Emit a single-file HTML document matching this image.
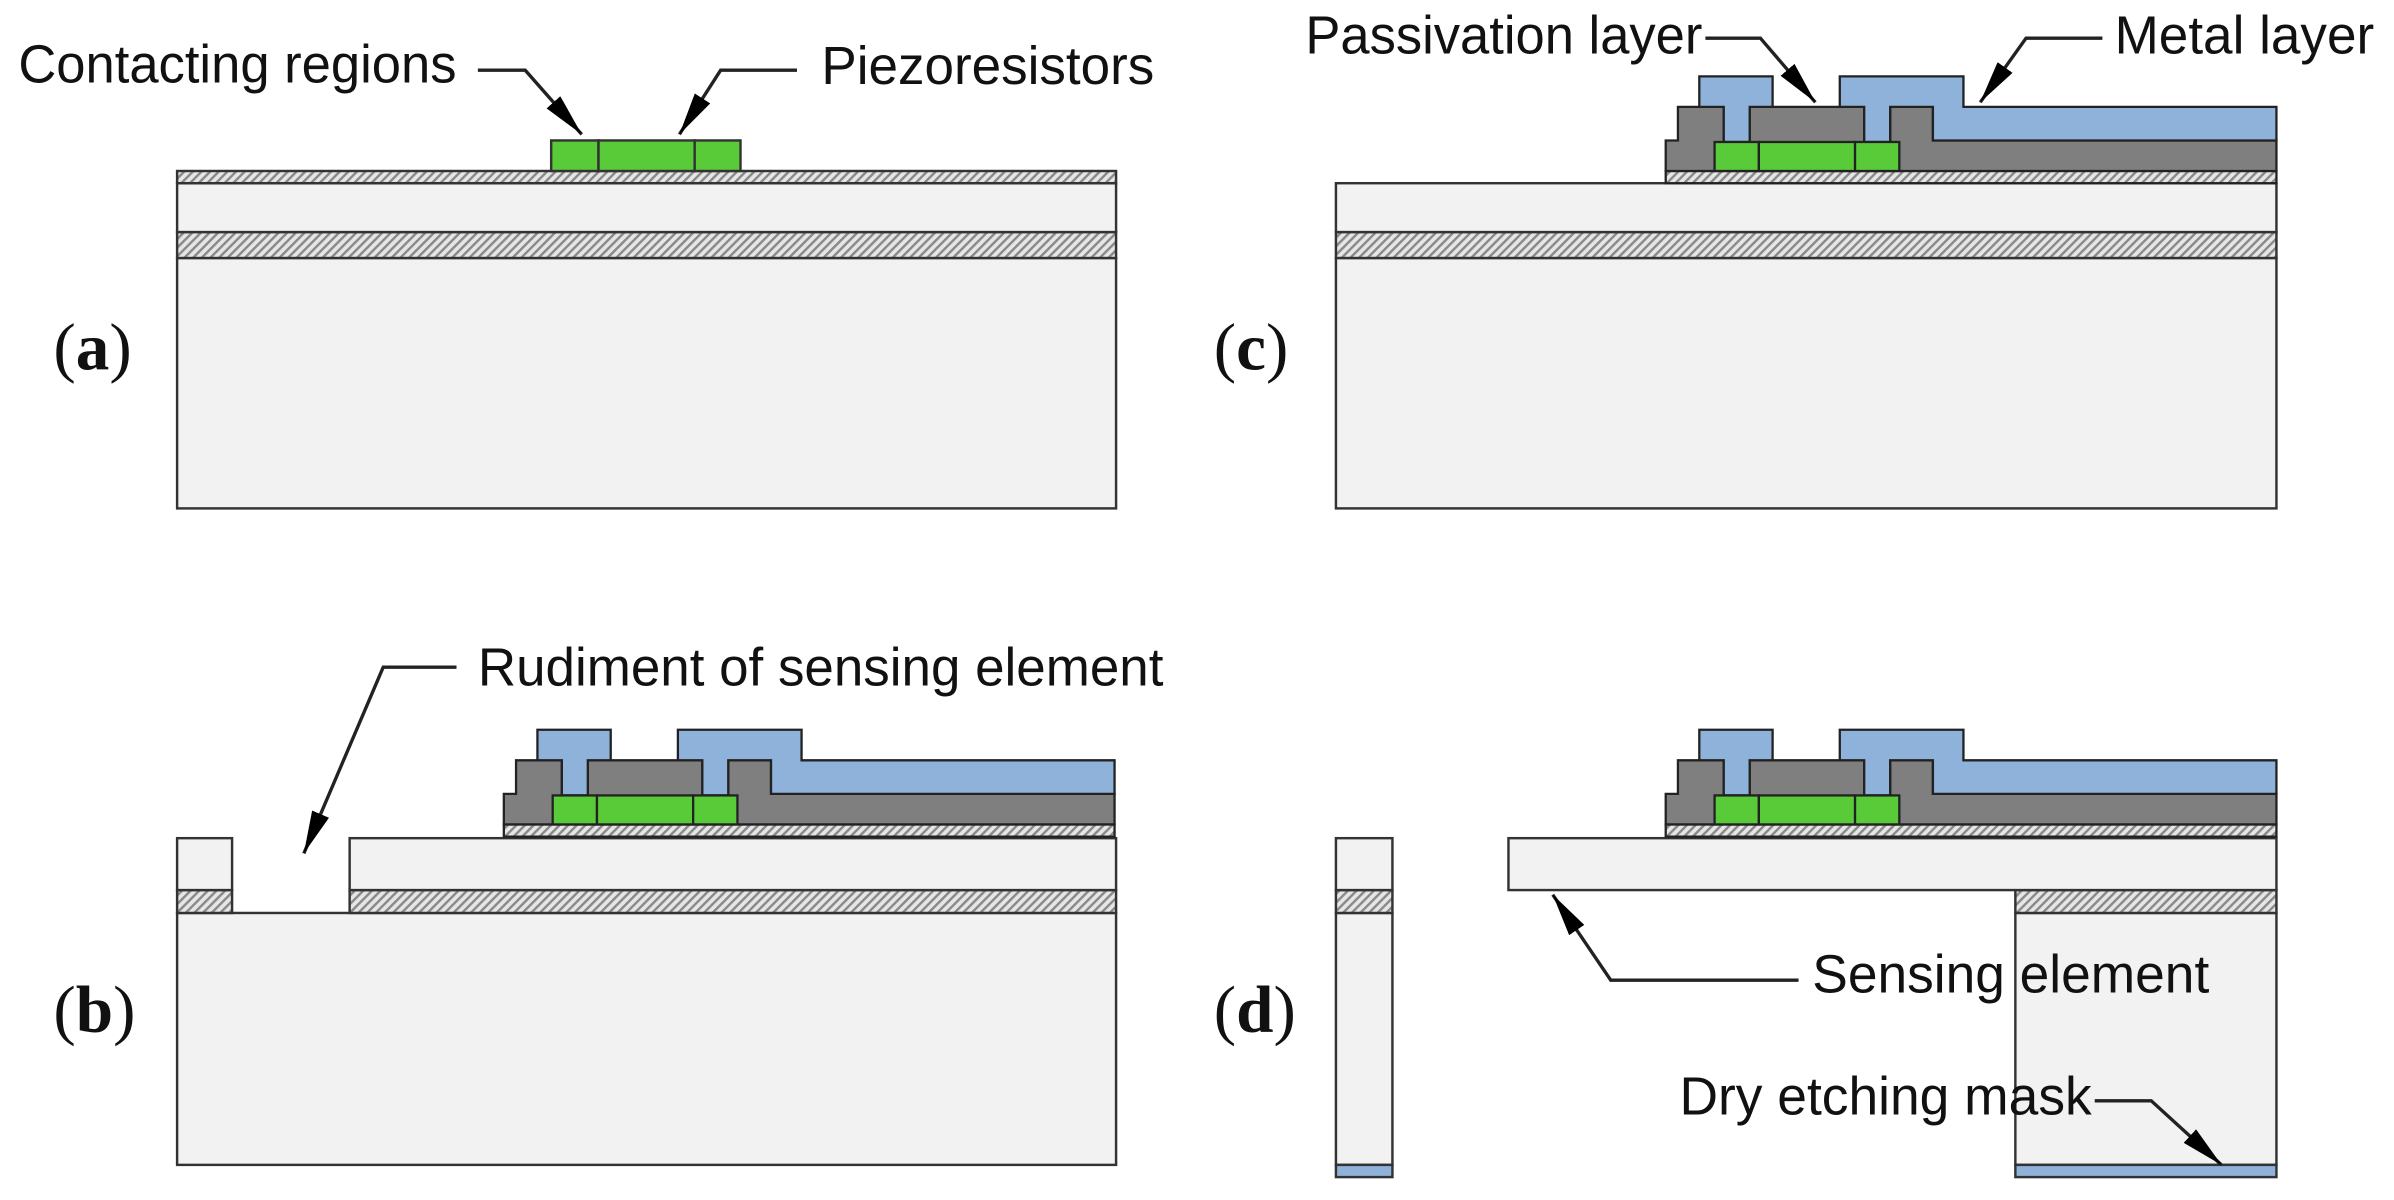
<!DOCTYPE html>
<html><head><meta charset="utf-8"><style>
html,body{margin:0;padding:0;background:#fff;}
svg{display:block;}
.lb{font-family:"Liberation Sans",Arial,sans-serif;font-size:35px;fill:#111;}
.pl{font-family:"Liberation Serif",serif;font-size:44px;fill:#111;}
</style></head><body>
<svg width="2394" height="1200" viewBox="0 0 1568 786" preserveAspectRatio="none" xmlns="http://www.w3.org/2000/svg">
<defs>
<pattern id="h" width="4" height="4" patternUnits="userSpaceOnUse" patternTransform="rotate(45)">
<rect width="4" height="4" fill="#e6e6e6"/><rect width="1.6" height="4" fill="#8a8a8a"/>
</pattern>
<marker id="ar" viewBox="0 0 28 12" refX="28" refY="6" markerWidth="28" markerHeight="12" markerUnits="userSpaceOnUse" orient="auto">
<path d="M0,0 L28,6 L0,12 Z" fill="#000"/>
</marker>
<g id="stack" stroke="#222" stroke-width="1.5">
<rect x="1091" y="112" width="400" height="8" fill="url(#h)"/>
<polygon points="1091,112 1091,92 1099,92 1099,70 1129,70 1129,93 1146,93 1146,70 1221,70 1221,93 1238,93 1238,70 1266,70 1266,92 1491,92 1491,112" fill="#7f7f7f"/>
<polygon points="1205,50 1286,50 1286,70 1491,70 1491,92 1266,92 1266,70 1238,70 1238,93 1221,93 1221,70 1205,70" fill="#8fb2da"/>
<polygon points="1113,50 1161,50 1161,70 1146,70 1146,93 1129,93 1129,70 1113,70" fill="#8fb2da"/>
<rect x="1123" y="93" width="29" height="19" fill="#5acb38"/>
<rect x="1152" y="93" width="63" height="19" fill="#5acb38"/>
<rect x="1215" y="93" width="29" height="19" fill="#5acb38"/>
</g>
</defs>

<!-- (a) -->
<g stroke="#333" stroke-width="1.6">
<rect x="116" y="169" width="615" height="164" fill="#f2f2f2"/>
<rect x="116" y="152" width="615" height="17" fill="url(#h)"/>
<rect x="116" y="120" width="615" height="32" fill="#f2f2f2"/>
<rect x="116" y="112" width="615" height="8" fill="url(#h)"/>
<rect x="361" y="92" width="31" height="20" fill="#5acb38"/>
<rect x="392" y="92" width="63" height="20" fill="#5acb38"/>
<rect x="455" y="92" width="30" height="20" fill="#5acb38"/>
</g>
<text class="lb" x="12" y="54" textLength="287" lengthAdjust="spacingAndGlyphs">Contacting regions</text>
<text class="lb" x="538" y="55" textLength="218" lengthAdjust="spacingAndGlyphs">Piezoresistors</text>
<polyline points="313,46 344,46 381,88" fill="none" stroke="#222" stroke-width="2.2" marker-end="url(#ar)"/>
<polyline points="522,46 472,46 445,88" fill="none" stroke="#222" stroke-width="2.2" marker-end="url(#ar)"/>
<text class="pl" x="35" y="242">(<tspan font-weight="bold">a</tspan>)</text>

<!-- (c) -->
<g stroke="#333" stroke-width="1.6">
<rect x="875" y="169" width="616" height="164" fill="#f2f2f2"/>
<rect x="875" y="152" width="616" height="17" fill="url(#h)"/>
<rect x="875" y="120" width="616" height="32" fill="#f2f2f2"/>
</g>
<use href="#stack"/>
<text class="lb" x="855" y="35" textLength="260" lengthAdjust="spacingAndGlyphs">Passivation layer</text>
<text class="lb" x="1385" y="35" textLength="170" lengthAdjust="spacingAndGlyphs">Metal layer</text>
<polyline points="1117,25 1153,25 1189,67" fill="none" stroke="#222" stroke-width="2.2" marker-end="url(#ar)"/>
<polyline points="1377,25 1327,25 1297,67" fill="none" stroke="#222" stroke-width="2.2" marker-end="url(#ar)"/>
<text class="pl" x="795" y="242">(<tspan font-weight="bold">c</tspan>)</text>

<!-- (b) -->
<g stroke="#333" stroke-width="1.6">
<rect x="116" y="598" width="615" height="165" fill="#f2f2f2"/>
<rect x="116" y="583" width="36" height="15" fill="url(#h)"/>
<rect x="116" y="549" width="36" height="34" fill="#f2f2f2"/>
<rect x="229" y="583" width="502" height="15" fill="url(#h)"/>
<rect x="229" y="549" width="502" height="34" fill="#f2f2f2"/>
</g>
<use href="#stack" transform="translate(-761,428)"/>
<text class="lb" x="313" y="449" textLength="449" lengthAdjust="spacingAndGlyphs">Rudiment of sensing element</text>
<polyline points="299,437 251,437 199,559" fill="none" stroke="#222" stroke-width="2.2" marker-end="url(#ar)"/>
<text class="pl" x="35" y="676">(<tspan font-weight="bold">b</tspan>)</text>

<!-- (d) -->
<g stroke="#333" stroke-width="1.6">
<rect x="875" y="598" width="37" height="165" fill="#f2f2f2"/>
<rect x="875" y="763" width="37" height="8" fill="#8fb2da"/>
<rect x="875" y="583" width="37" height="15" fill="url(#h)"/>
<rect x="875" y="549" width="37" height="34" fill="#f2f2f2"/>
<rect x="1320" y="598" width="171" height="165" fill="#f2f2f2"/>
<rect x="1320" y="763" width="171" height="8" fill="#8fb2da"/>
<rect x="1320" y="583" width="171" height="15" fill="url(#h)"/>
<rect x="988" y="549" width="503" height="34" fill="#f2f2f2"/>
</g>
<use href="#stack" transform="translate(0,428)"/>
<text class="lb" x="1187" y="650" textLength="260" lengthAdjust="spacingAndGlyphs">Sensing element</text>
<polyline points="1178,642 1055,642 1017,586" fill="none" stroke="#222" stroke-width="2.2" marker-end="url(#ar)"/>
<text class="lb" x="1100" y="730" textLength="270" lengthAdjust="spacingAndGlyphs">Dry etching mask</text>
<polyline points="1372,721 1409,721 1455,763" fill="none" stroke="#222" stroke-width="2.2" marker-end="url(#ar)"/>
<text class="pl" x="795" y="676">(<tspan font-weight="bold">d</tspan>)</text>
</svg>
</body></html>
